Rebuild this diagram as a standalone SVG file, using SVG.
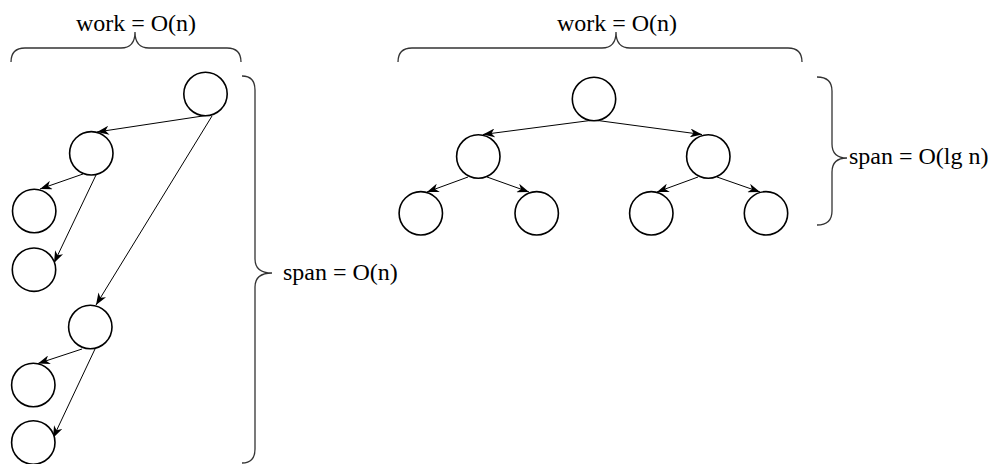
<svg xmlns="http://www.w3.org/2000/svg" width="1003" height="464" viewBox="0 0 1003 464">
  <style>
    .node { fill: #ffffff; stroke: #000000; stroke-width: 1.6; }
    .edge { fill: none; stroke: #000000; stroke-width: 1; marker-end: url(#arrow); }
    .brace { fill: none; stroke: #333333; stroke-width: 1.3; }
    .label { font-family: "Liberation Serif", "Times New Roman", serif; font-size: 24px; fill: #000000; }
  </style>
  <defs>
    <marker id="arrow" viewBox="0 0 12 9" refX="12" refY="4.5" markerWidth="12" markerHeight="9" markerUnits="userSpaceOnUse" orient="auto">
      <path d="M0,0 L12,4.5 L0,9 L3.5,4.5 z" fill="#000000"/>
    </marker>
  </defs>

  <rect width="1003" height="464" fill="#ffffff"/>

  <!-- connectors -->
  <g id="connectors">
    <!-- serial chain (left) -->
    <line class="edge" x1="206" y1="115.5" x2="97" y2="132"/>
    <line class="edge" x1="212" y1="116" x2="96" y2="305"/>
    <line class="edge" x1="83" y1="174" x2="40" y2="189"/>
    <line class="edge" x1="96" y1="175" x2="54" y2="263"/>
    <line class="edge" x1="82" y1="349" x2="38" y2="363.5"/>
    <line class="edge" x1="95" y1="349" x2="53" y2="438"/>
    <!-- balanced tree (right) -->
    <line class="edge" x1="594" y1="120" x2="483" y2="134.5"/>
    <line class="edge" x1="594" y1="120" x2="702" y2="134.5"/>
    <line class="edge" x1="468" y1="177" x2="427" y2="192"/>
    <line class="edge" x1="487" y1="177" x2="529" y2="192"/>
    <line class="edge" x1="698" y1="177" x2="657" y2="192"/>
    <line class="edge" x1="717" y1="177" x2="760" y2="192"/>
  </g>

  <!-- left computation -->
  <g id="l-root"><circle class="node" cx="205.5" cy="94" r="21.7"/></g>
  <g id="l-a"><circle class="node" cx="91.3" cy="153.3" r="21.7"/></g>
  <g id="l-a1"><circle class="node" cx="34.2" cy="211" r="21.7"/></g>
  <g id="l-a2"><circle class="node" cx="34" cy="269.7" r="21.7"/></g>
  <g id="l-b"><circle class="node" cx="90.3" cy="327" r="21.7"/></g>
  <g id="l-b1"><circle class="node" cx="33.3" cy="385" r="21.7"/></g>
  <g id="l-b2"><circle class="node" cx="33.3" cy="442.5" r="21.7"/></g>

  <!-- right computation -->
  <g id="r-root"><circle class="node" cx="594" cy="99" r="21.7"/></g>
  <g id="r-a"><circle class="node" cx="478.3" cy="156.5" r="21.7"/></g>
  <g id="r-b"><circle class="node" cx="708.3" cy="156.5" r="21.7"/></g>
  <g id="r-a1"><circle class="node" cx="420.8" cy="213.3" r="21.7"/></g>
  <g id="r-a2"><circle class="node" cx="536.7" cy="213.3" r="21.7"/></g>
  <g id="r-b1"><circle class="node" cx="651.3" cy="213.3" r="21.7"/></g>
  <g id="r-b2"><circle class="node" cx="766" cy="213.3" r="21.7"/></g>

  <!-- braces and measures -->
  <g id="l-work">
    <path class="brace" d="M11,62 Q11,48 25,48 L121,48 Q135,48 135,32 Q135,48 149,48 L227,48 Q241,48 241,62"/>
    <text class="label" x="136" y="31" text-anchor="middle">work = O(n)</text>
  </g>
  <g id="l-span">
    <path class="brace" d="M242,76 Q255,76 255,90 L255,259 Q255,273 272,273 Q255,273 255,287 L255,449 Q255,463 242,463"/>
    <text class="label" x="283" y="280">span = O(n)</text>
  </g>
  <g id="r-work">
    <path class="brace" d="M398,62 Q398,48 412,48 L602,48 Q616,48 616,32 Q616,48 630,48 L788,48 Q802,48 802,62"/>
    <text class="label" x="617" y="31" text-anchor="middle">work = O(n)</text>
  </g>
  <g id="r-span">
    <path class="brace" d="M817,77 Q832,77 832,91 L832,144 Q832,158 847,158 Q832,158 832,172 L832,211 Q832,225 817,225"/>
    <text class="label" x="849" y="164">span = O(lg n)</text>
  </g>
</svg>
